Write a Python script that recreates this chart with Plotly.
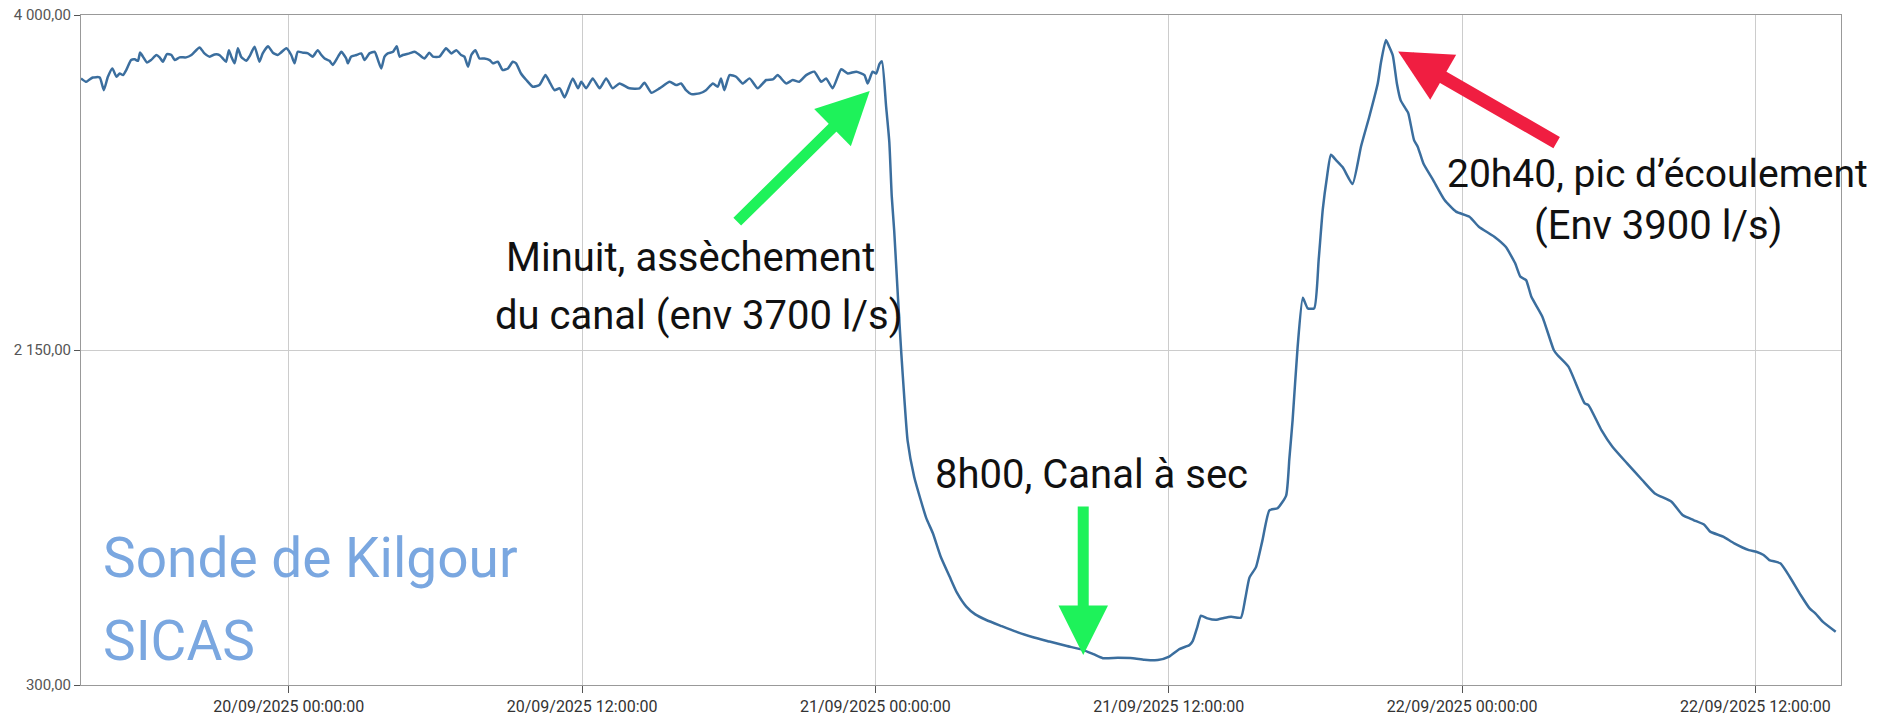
import pandas as pd
import plotly.graph_objects as go

# ---------------- data ----------------
start_time = "2025-09-19 15:30"
# minutes elapsed since start_time
minutes = [
    0, 13, 21, 29, 46, 56, 66, 77, 87, 95, 103, 111, 123, 132, 140, 145, 152, 162, 172, 185,
    193, 201, 211, 222, 230, 242, 258, 271, 291, 303, 316, 328, 340, 348, 356, 363, 369, 377, 385, 393,
    406, 414, 426, 438, 446, 459, 471, 483, 491, 504, 516, 524, 532, 545, 557, 569, 581, 590, 598, 610,
    618, 631, 639, 651, 655, 663, 676, 688, 696, 708, 721, 729, 737, 745, 753, 766, 775, 782, 790, 806,
    819, 831, 843, 855, 864, 880, 896, 909, 921, 933, 941, 950, 958, 968, 978, 990, 1003, 1011, 1023, 1035,
    1048, 1060, 1068, 1080, 1093, 1109, 1125, 1140, 1150, 1162, 1175,
    1187, 1207, 1220, 1228, 1240, 1256, 1273, 1289, 1305, 1322, 1346, 1371, 1383, 1400, 1420, 1445, 1461, 1473,
    1485, 1498, 1518, 1534, 1551, 1563, 1571, 1579, 1592, 1608, 1624, 1641, 1661, 1682, 1698, 1710, 1731, 1747,
    1763, 1780, 1800, 1817, 1829, 1845, 1866, 1882, 1903, 1923, 1931, 1943, 1952, 1960, 1966,
    1976, 1984, 1990, 1996, 2005, 2013, 2021, 2029, 2045, 2060, 2075, 2091, 2110, 2132, 2150, 2173, 2195, 2222,
    2260, 2295, 2335, 2377, 2420, 2459, 2485, 2508, 2545, 2582, 2610, 2643, 2671, 2696, 2721, 2729, 2740, 2749,
    2765, 2786, 2805, 2823, 2847, 2858, 2868, 2884, 2900, 2917, 2937, 2958, 2966, 2974, 2986, 2999, 3011, 3027,
    3038, 3048, 3058, 3068, 3080, 3097, 3121, 3142, 3162, 3183, 3191, 3203, 3212, 3220, 3230, 3239, 3252, 3258,
    3272, 3281, 3295, 3319, 3347, 3375, 3408, 3431, 3469, 3497, 3520, 3533, 3547, 3560, 3587, 3615, 3624, 3651,
    3691, 3700, 3732, 3759, 3795, 3832, 3863, 3904, 3931, 3958, 3985, 3999, 4031, 4058, 4094, 4112, 4130, 4144,
    4171, 4194, 4221, 4243, 4257, 4275, 4307,
]
# flow (l/s)
flow = [
    3650, 3631, 3644, 3655, 3655, 3585, 3659, 3705, 3659, 3677, 3668, 3696, 3751, 3755, 3747, 3793, 3770, 3738, 3751, 3779,
    3766, 3742, 3784, 3779, 3751, 3766, 3766, 3779, 3821, 3788, 3770, 3782, 3779, 3760, 3742, 3806, 3770, 3733, 3816, 3770,
    3747, 3773, 3825, 3742, 3788, 3828, 3792, 3779, 3793, 3816, 3779, 3733, 3797, 3792, 3788, 3770, 3806, 3779, 3760, 3747,
    3724, 3770, 3797, 3760, 3733, 3770, 3779, 3788, 3751, 3788, 3797, 3751, 3705, 3770, 3788, 3797, 3828, 3770, 3779, 3788,
    3797, 3779, 3760, 3792, 3770, 3770, 3816, 3788, 3806, 3779, 3770, 3714, 3779, 3806, 3760, 3760, 3751, 3733, 3742, 3696,
    3705, 3742, 3733, 3677, 3641, 3604, 3613, 3668, 3631, 3585, 3595,
    3545, 3650, 3595, 3631, 3595, 3650, 3595, 3650, 3595, 3622, 3595, 3595, 3626, 3571, 3595, 3631, 3613, 3622,
    3585, 3563, 3567, 3585, 3622, 3604, 3650, 3585, 3668, 3659, 3622, 3650, 3595, 3641, 3644, 3668, 3622, 3641,
    3631, 3668, 3687, 3631, 3650, 3595, 3700, 3677, 3687, 3668, 3622, 3687, 3677, 3730, 3744,
    3500, 3300, 3000, 2810, 2450, 2148, 1880, 1648, 1450, 1330, 1220, 1138, 1010, 899, 810, 733, 690, 659,
    625, 595, 565, 540, 515, 494, 470, 448, 450, 448, 440, 438, 457, 498, 521, 544, 620, 683,
    668, 660, 670, 677, 672, 780, 893, 951, 1100, 1265, 1276, 1346, 1550, 1764, 2159, 2438, 2380, 2380,
    2650, 2926, 3100, 3228, 3200, 3159, 3066, 3275, 3437, 3623, 3740, 3862, 3820, 3775, 3620, 3530, 3480, 3457,
    3309, 3273, 3180, 3088, 2978, 2914, 2886, 2831, 2776, 2720, 2630, 2555, 2536, 2444, 2334, 2150, 2122, 2058,
    1855, 1846, 1708, 1616, 1524, 1432, 1358, 1312, 1239, 1211, 1184, 1147, 1119, 1082, 1045, 1036, 1018, 990,
    972, 898, 797, 723, 696, 650, 594,
]

tick_times = ["2025-09-20 00:00", "2025-09-20 12:00", "2025-09-21 00:00",
              "2025-09-21 12:00", "2025-09-22 00:00", "2025-09-22 12:00"]
y_ticks = [300, 2150, 4000]
x_range = ["2025-09-19 15:30", "2025-09-22 15:30"]

# ---------------- figure ----------------
times = pd.Timestamp(start_time) + pd.to_timedelta(minutes, unit="min")

fig = go.Figure()
fig.add_trace(go.Scatter(
    x=times, y=flow, mode="lines",
    line=dict(color="#3b6e9e", width=2.5, shape="spline", smoothing=0.5),
    hoverinfo="x+y", showlegend=False,
))

GREEN = "#1ef25a"
RED = "#f01e41"
FONT = "Roboto, Arial, sans-serif"
TXT = dict(family=FONT, size=40, color="#111111")
WM = dict(family=FONT, size=55, color="#7aa7e0")

annotations = [
    # watermark
    dict(x="2025-09-19 16:20", y=1000, text="Sonde de Kilgour", xanchor="left", yanchor="middle",
         showarrow=False, font=WM),
    dict(x="2025-09-19 16:20", y=545, text="SICAS", xanchor="left", yanchor="middle",
         showarrow=False, font=WM),
    # text labels
    dict(x="2025-09-20 16:26", y=2661, text="Minuit, assèchement", showarrow=False,
         xanchor="center", yanchor="middle", font=TXT),
    dict(x="2025-09-20 16:48", y=2343, text="du canal (env 3700 l/s)", showarrow=False,
         xanchor="center", yanchor="middle", font=TXT),
    dict(x="2025-09-21 08:50", y=1465, text="8h00, Canal à sec", showarrow=False,
         xanchor="center", yanchor="middle", font=TXT),
    dict(x=1.0165, xref="paper", y=3122, text="20h40, pic d’écoulement", showarrow=False,
         xanchor="right", yanchor="middle", font=dict(TXT, size=39)),
    dict(x="2025-09-22 08:01", y=2840, text="(Env 3900 l/s)", showarrow=False,
         xanchor="center", yanchor="middle", font=TXT),
    # arrows
    dict(x="2025-09-20 23:46", y=3580, ax=-134, ay=132, text="", showarrow=True,
         arrowhead=2, arrowsize=0.95, arrowwidth=11, arrowcolor=GREEN, standoff=0),
    dict(x="2025-09-21 08:30", y=466, ax=0, ay=-150, text="", showarrow=True,
         arrowhead=2, arrowsize=0.9, arrowwidth=11, arrowcolor=GREEN, standoff=0),
    dict(x="2025-09-21 21:23", y=3799, ax=160, ay=92, text="", showarrow=True,
         arrowhead=2, arrowsize=0.8, arrowwidth=13, arrowcolor=RED, standoff=0),
]

fig.update_layout(
    width=1878, height=723,
    margin=dict(l=81, r=37, t=15, b=38),
    paper_bgcolor="white", plot_bgcolor="white",
    separators=", ",
    font=dict(family=FONT, color="#444444"),
    annotations=annotations,
    showlegend=False,
)
fig.update_xaxes(
    type="date", range=x_range, automargin=False,
    tickvals=tick_times, tickformat="%d/%m/%Y %H:%M:%S",
    tickfont=dict(size=16, color="#333333"),
    showgrid=True, gridcolor="#cccccc", gridwidth=1,
    ticks="outside", ticklen=7, tickcolor="#555555",
    showline=True, linecolor="#999999", linewidth=1, mirror=True,
    zeroline=False,
)
fig.update_yaxes(
    range=[300, 4000], tickvals=y_ticks, tickformat=",.2f", automargin=False,
    tickfont=dict(size=15, color="#555555"),
    showgrid=True, gridcolor="#cccccc", gridwidth=1,
    ticks="outside", ticklen=6, tickcolor="#555555",
    showline=True, linecolor="#999999", linewidth=1, mirror=True,
    zeroline=False,
)

fig.write_html("out.html", config={"displayModeBar": False},
               post_script="document.body.style.margin='0px';")
